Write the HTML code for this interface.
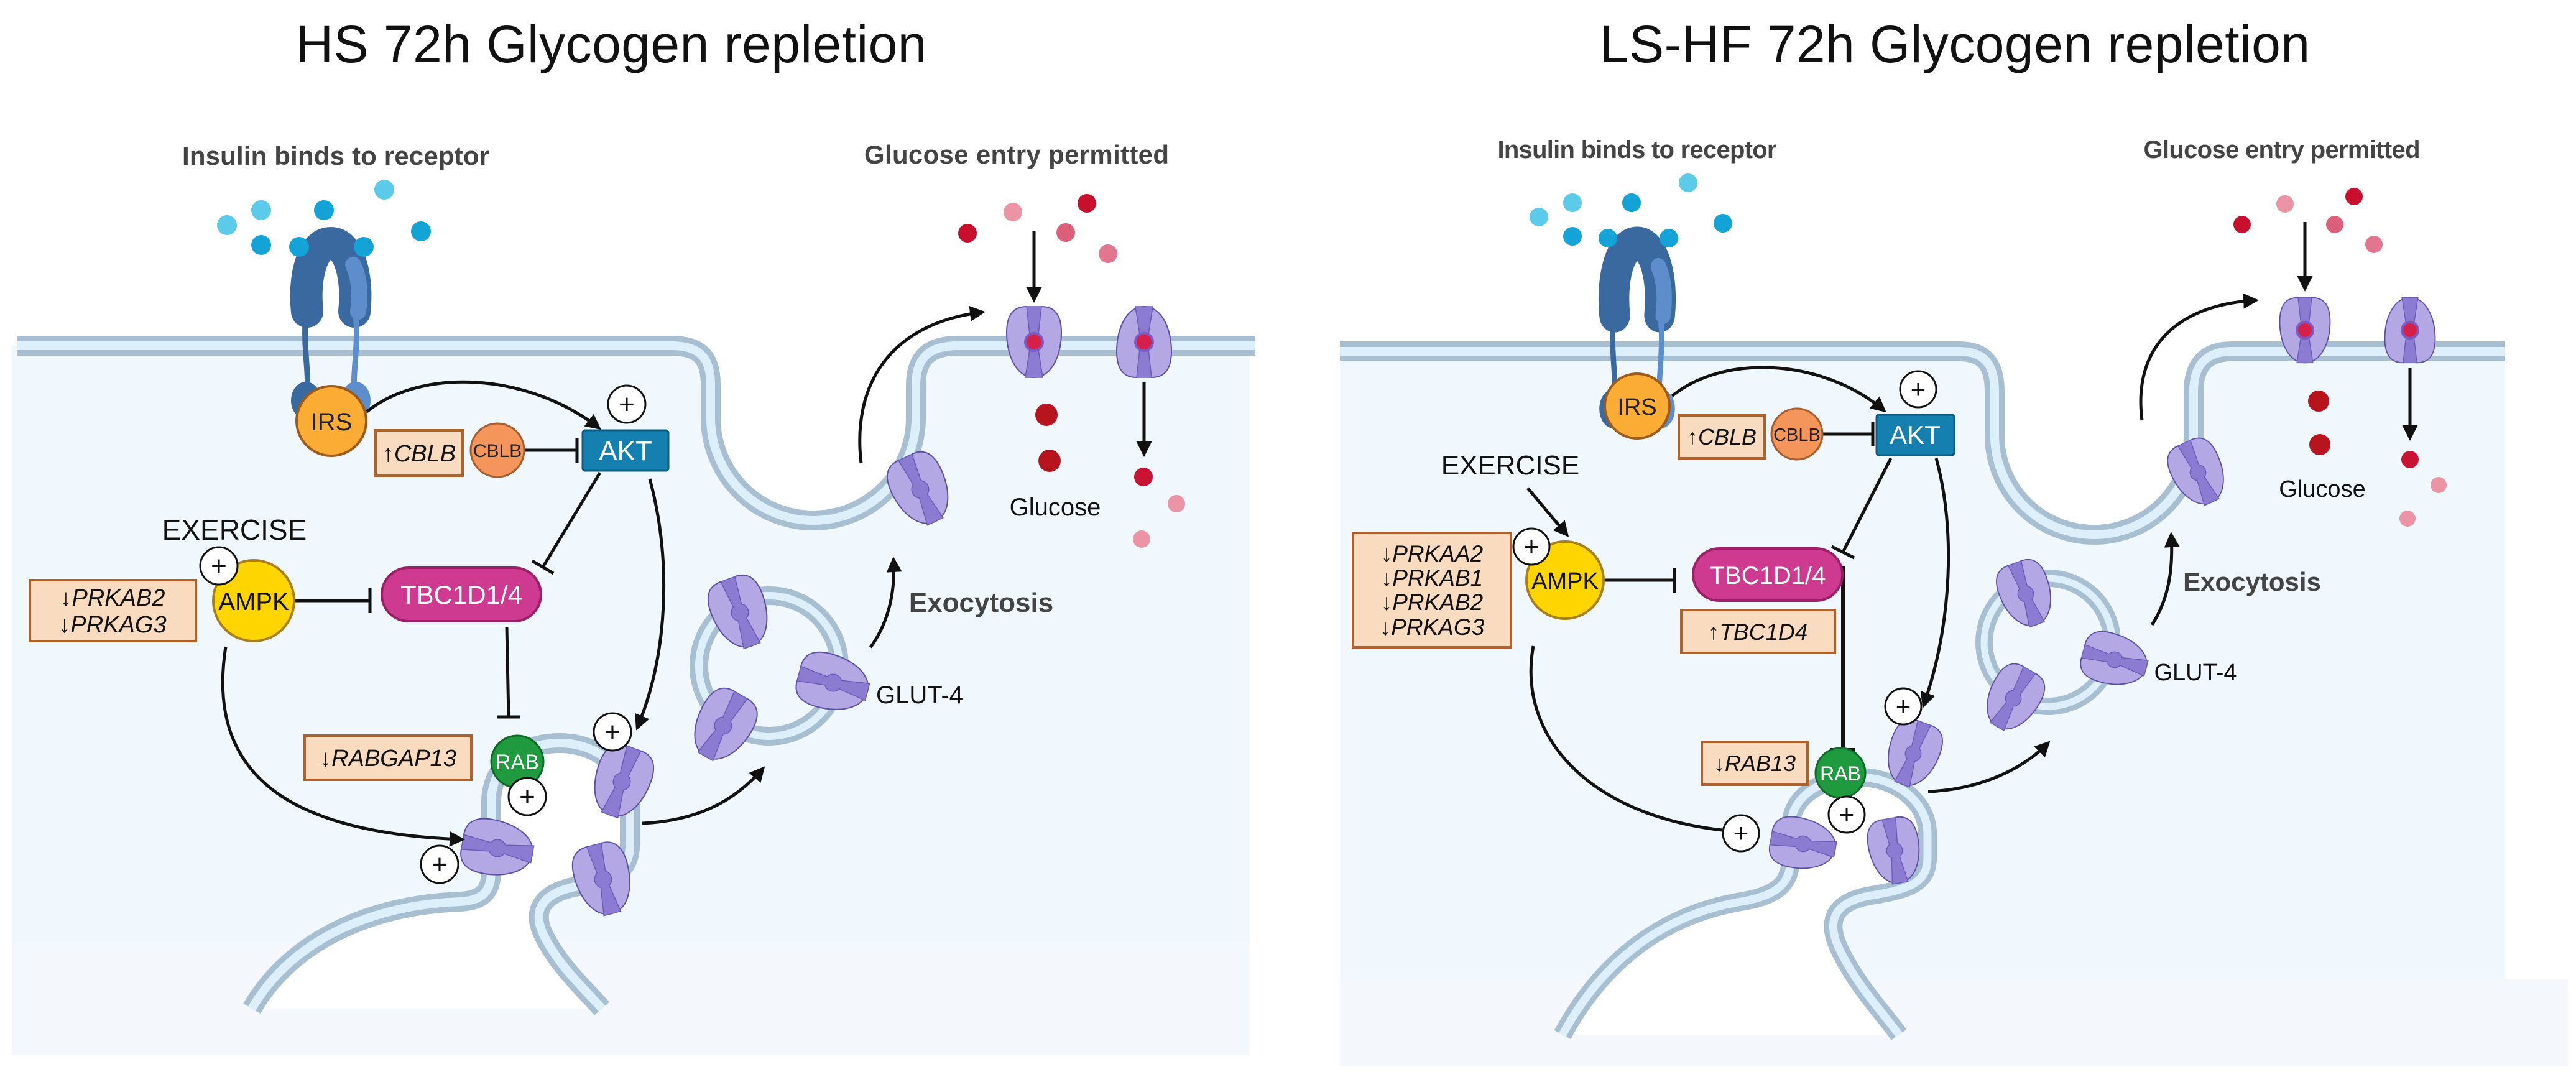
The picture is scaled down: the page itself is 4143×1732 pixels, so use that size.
<!DOCTYPE html>
<html><head><meta charset="utf-8"><style>
html,body{margin:0;padding:0;background:#fff;}
svg{display:block;}
text{font-family:"Liberation Sans",sans-serif;}
</style></head><body>
<svg width="4143" height="1732" viewBox="0 0 4143 1732" xmlns="http://www.w3.org/2000/svg">
<defs>
<marker id="ah" viewBox="0 0 10 10" refX="8" refY="5" markerWidth="5" markerHeight="5" orient="auto" markerUnits="strokeWidth"><path d="M0,0 L10,5 L0,10 z" fill="#111"/></marker>
<g id="glut">
<path d="M-12,-57 C-36,-57 -44,-40 -44,-15 C-44,22 -28,57 0,57 C28,57 44,22 44,-15 C44,-40 36,-57 12,-57 Q0,-51 -12,-57Z" fill="#b3a8e4" stroke="#5d4fa6" stroke-width="2"/>
<path d="M-12,-57 L12,-57 L7,-12 A14,14 0 0 1 7,12 L14,57 L-14,57 L-7,12 A14,14 0 0 1 -7,-12 Z" fill="#8b7bd1" stroke="#6a5bb8" stroke-width="1.5"/>
</g>
<g id="rec">
<path d="M-38,-55 C-44,-110 -30,-165 0,-165 C30,-165 44,-110 38,-55" fill="none" stroke="#3a699f" stroke-width="52" stroke-linecap="round"/>
<path d="M36,-130 C46,-110 48,-85 44,-55" fill="none" stroke="#5d8dcb" stroke-width="26" stroke-linecap="round"/>
<path d="M-40,-50 C-45,0 -35,40 -38,75" fill="none" stroke="#3a699f" stroke-width="9"/>
<path d="M40,-50 C45,0 35,40 38,75" fill="none" stroke="#5d8dcb" stroke-width="9"/>
<ellipse cx="-40" cy="88" rx="24" ry="30" fill="#3a699f"/>
<ellipse cx="40" cy="88" rx="24" ry="30" fill="#5d8dcb"/>
</g>
</defs>

<!-- ============ LEFT PANEL ============ -->
<text x="983" y="100" font-size="84" text-anchor="middle" fill="#111" textLength="1015">HS 72h Glycogen repletion</text>

<path d="M19,556 H1080 C1130,556 1143,580 1143,620 L1143,672 A165,165 0 0 0 1473,672 L1473,620 C1473,580 1490,556 1540,556 H2010 V1697 H19 Z" fill="#f1f8fd"/>
<rect x="19" y="1518" width="1991" height="179" fill="#f4f7fb"/>
<path d="M27,556 H1080 C1130,556 1143,580 1143,620 L1143,672 A165,165 0 0 0 1473,672 L1473,620 C1473,580 1490,556 1540,556 H2019" fill="none" stroke="#a7bfd0" stroke-width="32"/>
<path d="M27,556 H1080 C1130,556 1143,580 1143,620 L1143,672 A165,165 0 0 0 1473,672 L1473,620 C1473,580 1490,556 1540,556 H2019" fill="none" stroke="#dceffb" stroke-width="14"/>

<path d="M405,1622 C470,1510 600,1455 740,1450 C780,1448 790,1430 790,1400 L790,1290 C790,1230 840,1195 900,1195 C965,1195 1013,1240 1013,1300 L1013,1360 C1013,1400 985,1415 930,1425 C870,1436 855,1465 875,1505 C900,1555 940,1590 968,1622 Z" fill="#fff"/>
<path d="M405,1622 C470,1510 600,1455 740,1450 C780,1448 790,1430 790,1400 L790,1290 C790,1230 840,1195 900,1195 C965,1195 1013,1240 1013,1300 L1013,1360 C1013,1400 985,1415 930,1425 C870,1436 855,1465 875,1505 C900,1555 940,1590 968,1622" fill="none" stroke="#a7bfd0" stroke-width="32"/>
<path d="M405,1622 C470,1510 600,1455 740,1450 C780,1448 790,1430 790,1400 L790,1290 C790,1230 840,1195 900,1195 C965,1195 1013,1240 1013,1300 L1013,1360 C1013,1400 985,1415 930,1425 C870,1436 855,1465 875,1505 C900,1555 940,1590 968,1622" fill="none" stroke="#dceffb" stroke-width="14"/>

<circle cx="1237" cy="1071" r="113" fill="none" stroke="#a7bfd0" stroke-width="30"/>
<circle cx="1237" cy="1071" r="113" fill="none" stroke="#dceffb" stroke-width="12"/>

<text x="540" y="265" font-size="42" font-weight="bold" text-anchor="middle" fill="#444" textLength="494">Insulin binds to receptor</text>
<text x="1635" y="263" font-size="42" font-weight="bold" text-anchor="middle" fill="#444" textLength="490">Glucose entry permitted</text>

<g fill="#5ccbe9"><circle cx="365" cy="362" r="16"/><circle cx="420" cy="338" r="16"/><circle cx="618" cy="305" r="16"/></g>
<g fill="#14a3d6"><circle cx="521" cy="338" r="16"/><circle cx="677" cy="372" r="16"/><circle cx="420" cy="394" r="16"/></g>
<use href="#rec" transform="translate(532,556)"/>
<g fill="#14a3d6"><circle cx="481" cy="397" r="16"/><circle cx="585" cy="397" r="16"/></g>

<g fill="#c8102e"><circle cx="1556" cy="375" r="15"/><circle cx="1748" cy="327" r="15"/></g>
<circle cx="1629" cy="341" r="15" fill="#eb94a5"/><circle cx="1714" cy="374" r="15" fill="#dc5f7a"/><circle cx="1782" cy="408" r="15" fill="#e27690"/>
<circle cx="1683" cy="667" r="18" fill="#b8141e"/><circle cx="1688" cy="741" r="18" fill="#b8141e"/>
<circle cx="1839" cy="767" r="15" fill="#c81432"/><circle cx="1892" cy="810" r="14" fill="#eb94a5"/><circle cx="1836" cy="867" r="14" fill="#eb94a5"/>

<use href="#glut" transform="translate(1663,550)"/>
<use href="#glut" transform="translate(1840,550) rotate(180)"/>
<circle cx="1663" cy="550" r="14" fill="#d6204a" stroke="#7b59c0" stroke-width="4"/>
<circle cx="1840" cy="550" r="14" fill="#d6204a" stroke="#7b59c0" stroke-width="4"/>
<use href="#glut" transform="translate(1480,787) rotate(-25)"/>
<use href="#glut" transform="translate(1190,985) rotate(-20)"/>
<use href="#glut" transform="translate(1163,1167) rotate(30)"/>
<use href="#glut" transform="translate(1340,1098) rotate(-75)"/>
<use href="#glut" transform="translate(1000,1257) rotate(20)"/>
<use href="#glut" transform="translate(970,1414) rotate(-15)"/>
<use href="#glut" transform="translate(800,1364) rotate(-80)"/>

<g fill="none" stroke="#111" stroke-width="5">
<path d="M590,662 C680,590 850,600 963,688" marker-end="url(#ah)"/>
<path d="M843,724 H928 M928,704 V744"/>
<path d="M965,760 L873,912 M856,902 L890,922"/>
<path d="M1045,770 C1080,900 1075,1050 1025,1170" marker-end="url(#ah)"/>
<path d="M473,966 H595 M595,946 V986"/>
<path d="M815,1009 L818,1153 M800,1153 H836"/>
<path d="M363,1040 C330,1250 470,1340 743,1350" marker-end="url(#ah)"/>
<path d="M1033,1324 C1120,1320 1180,1290 1227,1236" marker-end="url(#ah)"/>
<path d="M1400,1041 C1430,1000 1440,950 1437,900" marker-end="url(#ah)"/>
<path d="M1385,745 C1370,620 1430,520 1580,502" marker-end="url(#ah)"/>
<path d="M1663,372 V482" marker-end="url(#ah)"/>
<path d="M1840,615 V730" marker-end="url(#ah)"/>
</g>

<circle cx="533" cy="677" r="56" fill="#fbac35" stroke="#9c5a1b" stroke-width="4"/>
<text x="533" y="692" font-size="40" text-anchor="middle" fill="#222">IRS</text>
<rect x="604" y="692" width="140" height="73" fill="#f9dcc0" stroke="#b0622a" stroke-width="4"/>
<text x="674" y="742" font-size="38" font-style="italic" text-anchor="middle" fill="#111">↑CBLB</text>
<circle cx="800" cy="724" r="43" fill="#f4965c" stroke="#a55d2c" stroke-width="3"/>
<text x="800" y="735" font-size="30" text-anchor="middle" fill="#222">CBLB</text>
<rect x="937" y="692" width="138" height="65" rx="4" fill="#1580b0" stroke="#0d5e85" stroke-width="3"/>
<text x="1006" y="740" font-size="44" text-anchor="middle" fill="#fff">AKT</text>
<text x="377" y="868" font-size="46" text-anchor="middle" fill="#111">EXERCISE</text>
<rect x="48" y="933" width="267" height="98" fill="#f9dcc0" stroke="#b0622a" stroke-width="4"/>
<text x="181" y="974" font-size="38" font-style="italic" text-anchor="middle" fill="#111">↓PRKAB2</text>
<text x="181" y="1017" font-size="38" font-style="italic" text-anchor="middle" fill="#111">↓PRKAG3</text>
<circle cx="408" cy="966" r="65" fill="#ffd500" stroke="#a8801a" stroke-width="4"/>
<text x="408" y="981" font-size="40" text-anchor="middle" fill="#111">AMPK</text>
<rect x="614" y="913" width="256" height="86" rx="43" fill="#cf3a91" stroke="#9b2068" stroke-width="4"/>
<text x="742" y="971" font-size="42" text-anchor="middle" fill="#fff">TBC1D1/4</text>
<rect x="490" y="1183" width="268" height="71" fill="#f9dcc0" stroke="#b0622a" stroke-width="4"/>
<text x="624" y="1232" font-size="38" font-style="italic" text-anchor="middle" fill="#111">↓RABGAP13</text>
<circle cx="832" cy="1225" r="42" fill="#1f9a3e" stroke="#0f6a28" stroke-width="3"/>
<text x="832" y="1237" font-size="34" text-anchor="middle" fill="#fff">RAB</text>
<text x="1697" y="829" font-size="40" text-anchor="middle" fill="#111">Glucose</text>
<text x="1479" y="1131" font-size="40" text-anchor="middle" fill="#111">GLUT-4</text>
<text x="1578" y="984" font-size="44" font-weight="bold" text-anchor="middle" fill="#444">Exocytosis</text>

<g fill="#fff" stroke="#111" stroke-width="3">
<circle cx="1008" cy="650" r="30"/><circle cx="352" cy="910" r="30"/><circle cx="985" cy="1177" r="30"/><circle cx="848" cy="1281" r="30"/><circle cx="707" cy="1390" r="30"/>
</g>
<g font-size="44" text-anchor="middle" fill="#111">
<text x="1008" y="665">+</text><text x="352" y="925">+</text><text x="985" y="1192">+</text><text x="848" y="1296">+</text><text x="707" y="1405">+</text>
</g>

<!-- ============ RIGHT PANEL ============ -->
<text x="3144" y="100" font-size="84" text-anchor="middle" fill="#111" textLength="1142">LS-HF 72h Glycogen repletion</text>

<path d="M2155,565 H3150 C3195,565 3208,590 3208,630 L3208,700 A160,160 0 0 0 3528,700 L3528,630 C3528,590 3545,565 3590,565 H4029 V1575 H4130 V1715 H2155 Z" fill="#f1f8fd"/>
<rect x="2155" y="1575" width="1975" height="140" fill="#f4f7fb"/>
<path d="M2155,565 H3150 C3195,565 3208,590 3208,630 L3208,700 A160,160 0 0 0 3528,700 L3528,630 C3528,590 3545,565 3590,565 H4029" fill="none" stroke="#a7bfd0" stroke-width="32"/>
<path d="M2155,565 H3150 C3195,565 3208,590 3208,630 L3208,700 A160,160 0 0 0 3528,700 L3528,630 C3528,590 3545,565 3590,565 H4029" fill="none" stroke="#dceffb" stroke-width="14"/>

<path d="M2513,1664 C2580,1540 2680,1470 2800,1450 C2860,1440 2880,1420 2880,1380 L2880,1330 C2880,1280 2930,1250 2990,1250 C3050,1250 3100,1290 3100,1340 L3100,1380 C3100,1420 3070,1430 3010,1440 C2950,1450 2935,1480 2960,1530 C2990,1590 3030,1630 3054,1664 Z" fill="#fff"/>
<path d="M2513,1664 C2580,1540 2680,1470 2800,1450 C2860,1440 2880,1420 2880,1380 L2880,1330 C2880,1280 2930,1250 2990,1250 C3050,1250 3100,1290 3100,1340 L3100,1380 C3100,1420 3070,1430 3010,1440 C2950,1450 2935,1480 2960,1530 C2990,1590 3030,1630 3054,1664" fill="none" stroke="#a7bfd0" stroke-width="30"/>
<path d="M2513,1664 C2580,1540 2680,1470 2800,1450 C2860,1440 2880,1420 2880,1380 L2880,1330 C2880,1280 2930,1250 2990,1250 C3050,1250 3100,1290 3100,1340 L3100,1380 C3100,1420 3070,1430 3010,1440 C2950,1450 2935,1480 2960,1530 C2990,1590 3030,1630 3054,1664" fill="none" stroke="#dceffb" stroke-width="13"/>

<circle cx="3294" cy="1033" r="103" fill="none" stroke="#a7bfd0" stroke-width="28"/>
<circle cx="3294" cy="1033" r="103" fill="none" stroke="#dceffb" stroke-width="11"/>

<text x="2633" y="254" font-size="40" font-weight="bold" text-anchor="middle" fill="#444" textLength="449">Insulin binds to receptor</text>
<text x="3670" y="254" font-size="40" font-weight="bold" text-anchor="middle" fill="#444" textLength="445">Glucose entry permitted</text>

<g fill="#5ccbe9"><circle cx="2475" cy="349" r="15"/><circle cx="2529" cy="326" r="15"/><circle cx="2715" cy="294" r="15"/></g>
<g fill="#14a3d6"><circle cx="2624" cy="326" r="15"/><circle cx="2771" cy="359" r="15"/><circle cx="2529" cy="380" r="15"/></g>
<use href="#rec" transform="translate(2633,565) scale(0.95,1.05)"/>
<g fill="#14a3d6"><circle cx="2586" cy="383" r="15"/><circle cx="2684" cy="383" r="15"/></g>

<g fill="#c8102e"><circle cx="3606" cy="361" r="14"/><circle cx="3786" cy="316" r="14"/></g>
<circle cx="3675" cy="328" r="14" fill="#eb94a5"/><circle cx="3755" cy="361" r="14" fill="#dc5f7a"/><circle cx="3818" cy="393" r="14" fill="#e27690"/>
<circle cx="3729" cy="645" r="17" fill="#b8141e"/><circle cx="3731" cy="715" r="17" fill="#b8141e"/>
<circle cx="3876" cy="739" r="14" fill="#c81432"/><circle cx="3922" cy="780" r="13" fill="#eb94a5"/><circle cx="3872" cy="834" r="13" fill="#eb94a5"/>

<use href="#glut" transform="translate(3707,531) scale(0.92)"/>
<use href="#glut" transform="translate(3876,531) rotate(180) scale(0.92)"/>
<circle cx="3707" cy="531" r="13" fill="#d6204a" stroke="#7b59c0" stroke-width="4"/>
<circle cx="3876" cy="531" r="13" fill="#d6204a" stroke="#7b59c0" stroke-width="4"/>
<use href="#glut" transform="translate(3535,760) rotate(-25) scale(0.92)"/>
<use href="#glut" transform="translate(3258,955) rotate(-20) scale(0.92)"/>
<use href="#glut" transform="translate(3238,1123) rotate(30) scale(0.92)"/>
<use href="#glut" transform="translate(3401,1061) rotate(-75) scale(0.92)"/>
<use href="#glut" transform="translate(3077,1212) rotate(20) scale(0.92)"/>
<use href="#glut" transform="translate(3047,1368) rotate(-10) scale(0.92)"/>
<use href="#glut" transform="translate(2900,1357) rotate(-80) scale(0.92)"/>

<g fill="none" stroke="#111" stroke-width="5">
<path d="M2689,637 C2770,570 2930,575 3030,660" marker-end="url(#ah)"/>
<path d="M2931,698 H3012 M3012,678 V718"/>
<path d="M3041,737 L2964,888 M2946,879 L2982,897"/>
<path d="M3114,737 C3145,850 3140,1000 3094,1134" marker-end="url(#ah)"/>
<path d="M2457,785 L2520,860" marker-end="url(#ah)"/>
<path d="M2579,933 H2693 M2693,913 V953"/>
<path d="M2964,910 V1206 M2944,1206 H2984" stroke-width="6"/>
<path d="M2466,1039 C2440,1180 2550,1310 2770,1335"/>
<path d="M3101,1273 C3180,1270 3250,1240 3294,1195" marker-end="url(#ah)"/>
<path d="M3461,1005 C3490,960 3495,910 3492,860" marker-end="url(#ah)"/>
<path d="M3445,676 C3430,560 3500,490 3628,483" marker-end="url(#ah)"/>
<path d="M3707,357 V464" marker-end="url(#ah)"/>
<path d="M3876,592 V704" marker-end="url(#ah)"/>
</g>

<circle cx="2633" cy="653" r="52" fill="#fbac35" stroke="#9c5a1b" stroke-width="4"/>
<text x="2633" y="667" font-size="38" text-anchor="middle" fill="#222">IRS</text>
<rect x="2700" y="668" width="138" height="69" fill="#f9dcc0" stroke="#b0622a" stroke-width="4"/>
<text x="2769" y="715" font-size="36" font-style="italic" text-anchor="middle" fill="#111">↑CBLB</text>
<circle cx="2890" cy="698" r="41" fill="#f4965c" stroke="#a55d2c" stroke-width="3"/>
<text x="2890" y="709" font-size="29" text-anchor="middle" fill="#222">CBLB</text>
<rect x="3018" y="667" width="125" height="65" rx="4" fill="#1580b0" stroke="#0d5e85" stroke-width="3"/>
<text x="3080" y="714" font-size="42" text-anchor="middle" fill="#fff">AKT</text>
<text x="2429" y="763" font-size="44" text-anchor="middle" fill="#111">EXERCISE</text>
<rect x="2176" y="857" width="254" height="184" fill="#f9dcc0" stroke="#b0622a" stroke-width="4"/>
<g font-size="37" font-style="italic" text-anchor="middle" fill="#111">
<text x="2303" y="903">↓PRKAA2</text><text x="2303" y="942">↓PRKAB1</text><text x="2303" y="981">↓PRKAB2</text><text x="2303" y="1021">↓PRKAG3</text>
</g>
<circle cx="2517" cy="933" r="62" fill="#ffd500" stroke="#a8801a" stroke-width="4"/>
<text x="2517" y="947" font-size="38" text-anchor="middle" fill="#111">AMPK</text>
<rect x="2723" y="882" width="240" height="84" rx="42" fill="#cf3a91" stroke="#9b2068" stroke-width="4"/>
<text x="2843" y="939" font-size="40" text-anchor="middle" fill="#fff">TBC1D1/4</text>
<rect x="2704" y="981" width="247" height="69" fill="#f9dcc0" stroke="#b0622a" stroke-width="4"/>
<text x="2827" y="1029" font-size="37" font-style="italic" text-anchor="middle" fill="#111">↑TBC1D4</text>
<rect x="2737" y="1193" width="170" height="69" fill="#f9dcc0" stroke="#b0622a" stroke-width="4"/>
<text x="2822" y="1240" font-size="36" font-style="italic" text-anchor="middle" fill="#111">↓RAB13</text>
<circle cx="2960" cy="1243" r="40" fill="#1f9a3e" stroke="#0f6a28" stroke-width="3"/>
<text x="2960" y="1255" font-size="32" text-anchor="middle" fill="#fff">RAB</text>
<text x="3735" y="799" font-size="38" text-anchor="middle" fill="#111">Glucose</text>
<text x="3531" y="1094" font-size="38" text-anchor="middle" fill="#111">GLUT-4</text>
<text x="3622" y="950" font-size="42" font-weight="bold" text-anchor="middle" fill="#444">Exocytosis</text>

<g fill="#fff" stroke="#111" stroke-width="3">
<circle cx="3085" cy="626" r="29"/><circle cx="2463" cy="879" r="29"/><circle cx="3061" cy="1136" r="29"/><circle cx="2970" cy="1310" r="29"/><circle cx="2800" cy="1340" r="29"/>
</g>
<g font-size="42" text-anchor="middle" fill="#111">
<text x="3085" y="640">+</text><text x="2463" y="893">+</text><text x="3061" y="1150">+</text><text x="2970" y="1324">+</text><text x="2800" y="1354">+</text>
</g>
</svg>
</body></html>
